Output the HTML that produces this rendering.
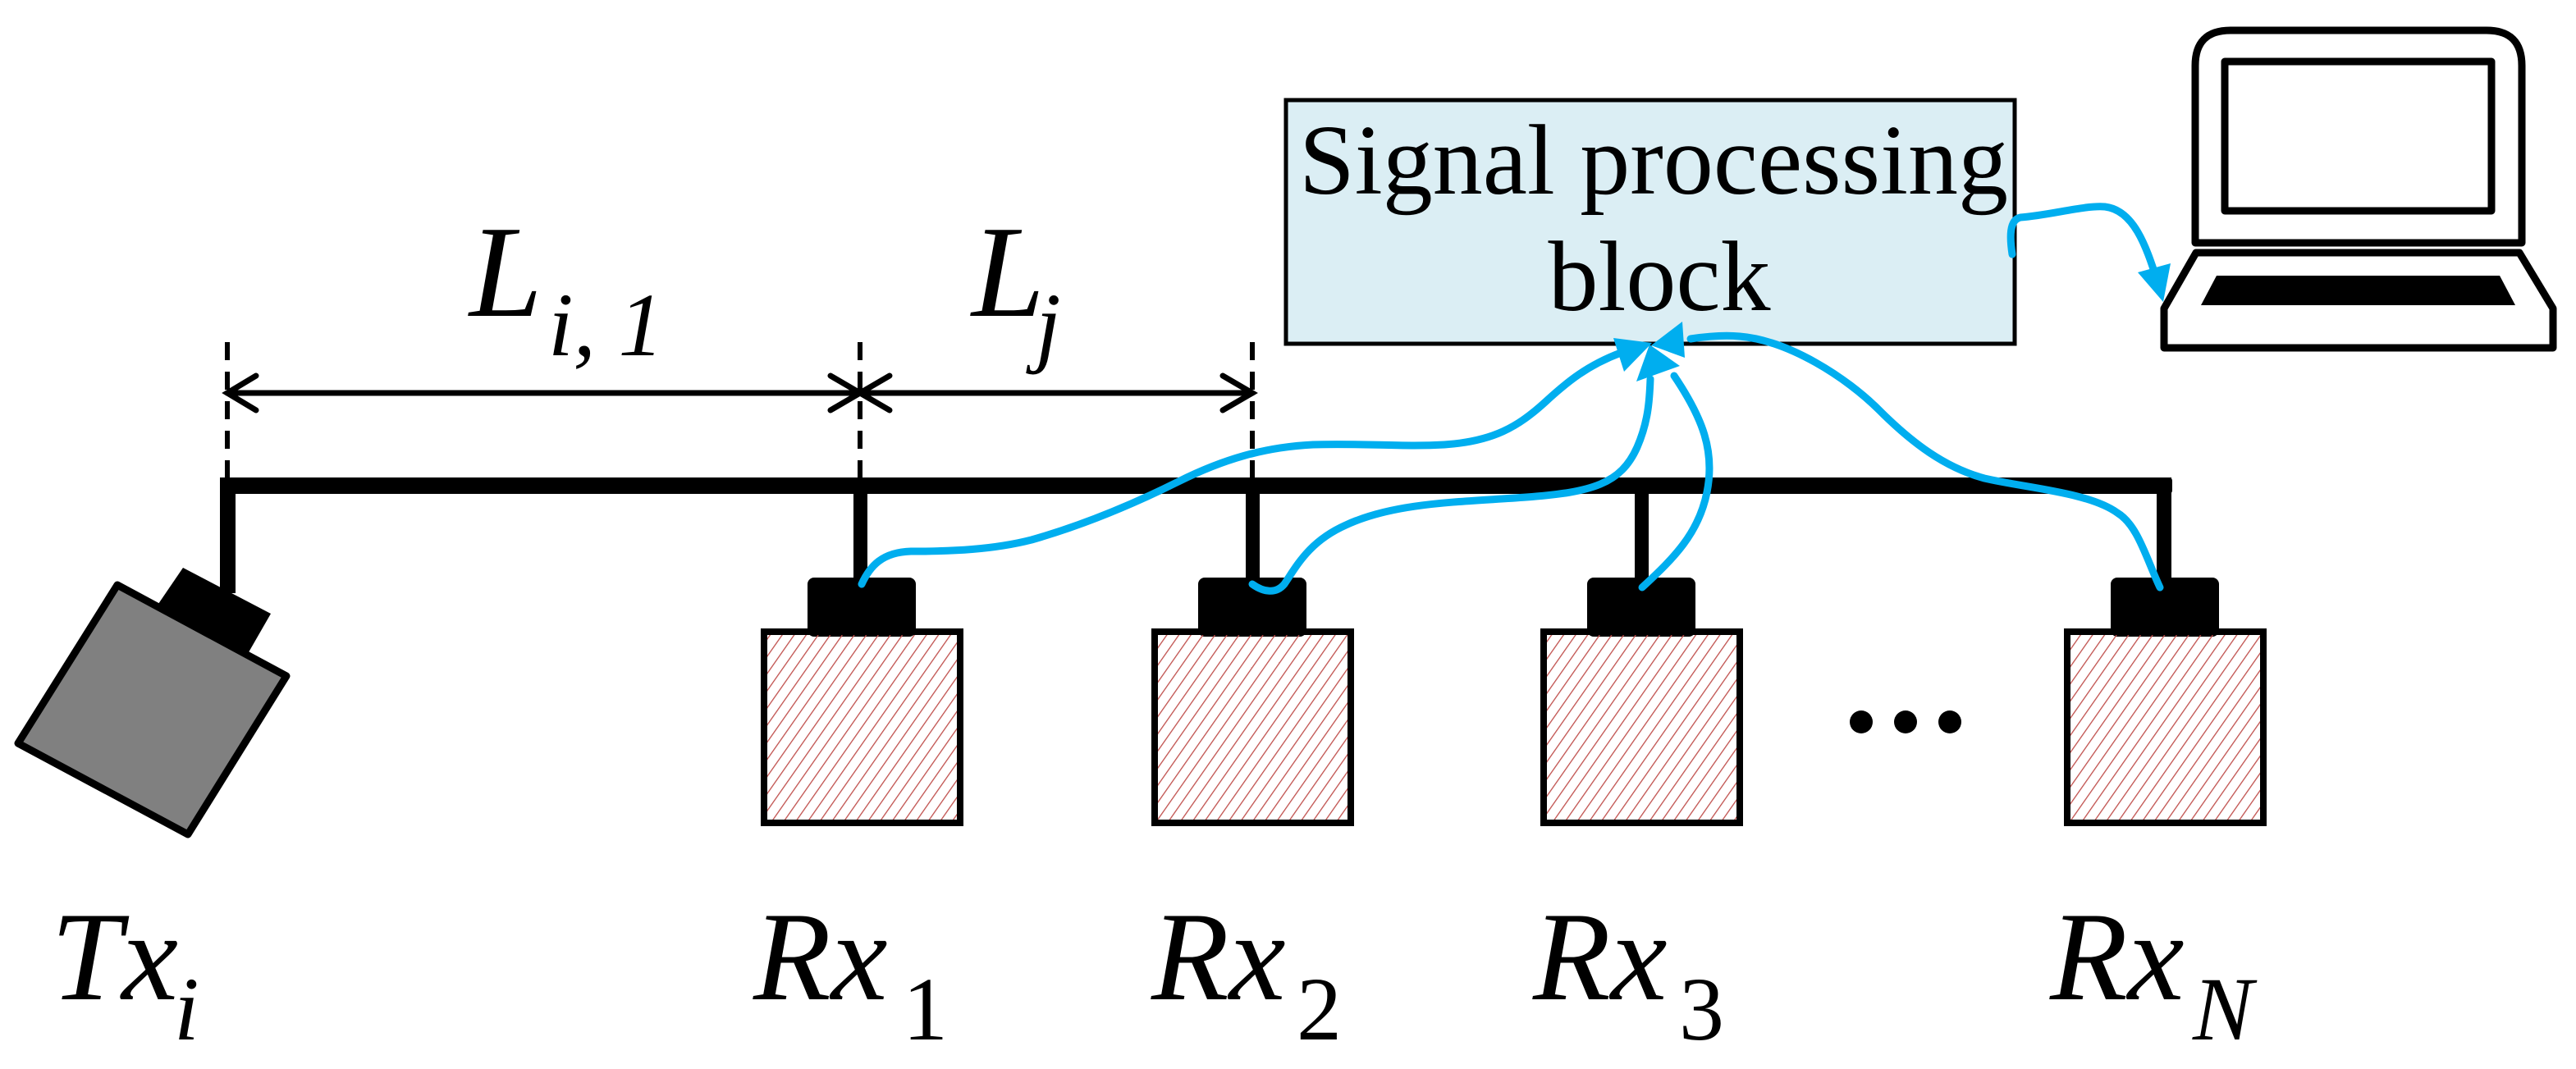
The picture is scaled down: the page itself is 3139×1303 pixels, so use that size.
<!DOCTYPE html>
<html><head><meta charset="utf-8"><style>
html,body{margin:0;padding:0;background:#fff}
svg{display:block}
</style></head><body>
<svg width="3139" height="1303" viewBox="0 0 3139 1303" xmlns="http://www.w3.org/2000/svg" font-family="'Liberation Serif', serif">
<defs>
<pattern id="hatch" patternUnits="userSpaceOnUse" width="12" height="12" patternTransform="rotate(35)">
<line x1="0" y1="0" x2="0" y2="12" stroke="#C0504D" stroke-width="2.6"/>
</pattern>
</defs>
<rect width="3139" height="1303" fill="#fff"/>

<g stroke="#000" stroke-width="6" stroke-dasharray="22,14">
<line x1="277" y1="417" x2="277" y2="585"/>
<line x1="1048" y1="417" x2="1048" y2="585"/>
<line x1="1526" y1="417" x2="1526" y2="585"/>
</g>
<g stroke="#000" stroke-width="7" fill="none" stroke-linecap="round">
<line x1="277" y1="479" x2="1526" y2="479"/>
<polyline points="312,458 277,479 312,500"/>
<polyline points="1012,458 1048,479 1012,500"/>
<polyline points="1084,458 1048,479 1084,500"/>
<polyline points="1490,458 1526,479 1490,500"/>
</g>

<g fill="#000">
<rect x="268" y="582" width="2379" height="20" rx="4"/>
<rect x="268" y="582" width="19" height="141"/>
<rect x="1040" y="582" width="17" height="130"/>
<rect x="1518" y="582" width="17" height="130"/>
<rect x="1992" y="582" width="17" height="130"/>
<rect x="2628" y="582" width="18" height="130"/>
</g>

<polygon points="193,736 223,692 330,748 303,795" fill="#000"/>
<polygon points="22,906 143,713 349,824 229,1017" fill="#808080" stroke="#000" stroke-width="9" stroke-linejoin="round"/>

<g stroke="#000" stroke-width="8">
<rect x="988" y="708" width="124" height="64" rx="4" fill="#000"/>
<rect x="931" y="770" width="239" height="233" fill="url(#hatch)"/>
<rect x="1464" y="708" width="124" height="64" rx="4" fill="#000"/>
<rect x="1407" y="770" width="239" height="233" fill="url(#hatch)"/>
<rect x="1938" y="708" width="124" height="64" rx="4" fill="#000"/>
<rect x="1881" y="770" width="239" height="233" fill="url(#hatch)"/>
<rect x="2576" y="708" width="124" height="64" rx="4" fill="#000"/>
<rect x="2519" y="770" width="239" height="233" fill="url(#hatch)"/>
</g>

<g fill="#000">
<circle cx="2268" cy="880" r="14"/>
<circle cx="2322" cy="880" r="14"/>
<circle cx="2376" cy="880" r="14"/>
</g>

<rect x="1567" y="122" width="888" height="297" fill="#DBEEF4" stroke="#000" stroke-width="5"/>
<text x="2015" y="236" font-size="122" text-anchor="middle" font-family="'Liberation Serif', serif">Signal processing</text>
<text x="2022" y="378" font-size="122" text-anchor="middle" font-family="'Liberation Serif', serif">block</text>

<g stroke="#000" stroke-width="9" fill="#fff" stroke-linejoin="round">
<path d="M2675,296 L2675,80 Q2675,37 2718,37 L3030,37 Q3073,37 3073,80 L3073,296 Z"/>
<rect x="2711" y="75" width="325" height="182"/>
<path d="M2676,308 L3070,308 L3111,376 L3111,424 L2637,424 L2637,376 Z"/>
</g>
<polygon points="2701,336 3046,336 3065,372 2682,372" fill="#000"/>

<g stroke="#00AEEF" stroke-width="9" fill="none" stroke-linecap="round">
<path d="M1050,712 C1060,690 1075,673 1110,672 C1160,672 1210,670 1257,658 C1320,640 1380,615 1436,587 C1490,560 1540,545 1600,542 C1660,540 1710,545 1760,542 C1820,538 1850,520 1883,490 C1910,465 1935,445 1975,430"/>
<path d="M1526,712 C1540,722 1555,724 1565,712 C1580,690 1595,660 1640,640 C1700,612 1780,612 1860,606 C1940,600 1975,590 1995,545 C2008,515 2010,490 2011,462"/>
<path d="M2001,716 C2040,680 2070,650 2080,600 C2090,550 2075,510 2040,458"/>
<path d="M2632,716 C2615,680 2605,640 2580,625 C2545,600 2470,595 2418,583 C2370,570 2330,540 2290,500 C2250,460 2180,415 2120,410 C2100,408 2080,410 2060,413"/>
<path d="M2452,310 C2449,290 2448,268 2462,265 C2500,262 2540,250 2565,252 C2600,256 2615,300 2628,340"/>
</g>
<g fill="#00AEEF">
<polygon points="2013,418 1966,412 1979,453"/>
<polygon points="2010,420 1994,465 2047,446"/>
<polygon points="2012,421 2050,392 2053,436"/>
<polygon points="2636,368 2605,332 2645,321"/>
</g>

<g font-family="'Liberation Serif', serif" font-style="italic">
<text x="572" y="385" font-size="160">L</text>
<text x="668" y="433" font-size="110">i, 1</text>
<text x="1184" y="385" font-size="160">L</text>
<text x="1262" y="433" font-size="110">j</text>

<text x="62" y="1218" font-size="155">Tx</text>
<text x="212" y="1267" font-size="110">i</text>

<text x="918" y="1218" font-size="155">Rx</text>
<text x="1100" y="1267" font-size="110" font-style="normal">1</text>
<text x="1403" y="1218" font-size="155">Rx</text>
<text x="1580" y="1267" font-size="110" font-style="normal">2</text>
<text x="1868" y="1218" font-size="155">Rx</text>
<text x="2046" y="1267" font-size="110" font-style="normal">3</text>
<text x="2498" y="1218" font-size="155">Rx</text>
<text x="2672" y="1267" font-size="110">N</text>
</g>
</svg>
</body></html>
